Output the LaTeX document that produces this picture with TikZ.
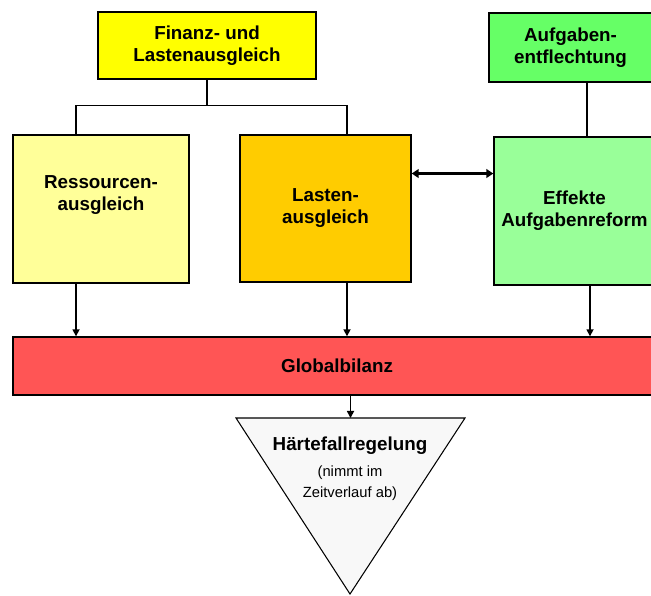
\documentclass[tikz,border=0pt]{standalone}
\usepackage{fontspec}
\setmainfont{Liberation Sans}
\usetikzlibrary{arrows.meta, calc}

\definecolor{finyellow}{HTML}{FFFF00}
\definecolor{resyellow}{HTML}{FFFF99}
\definecolor{lasorange}{HTML}{FFCC00}
\definecolor{aufgreen}{HTML}{66FF66}
\definecolor{effgreen}{HTML}{99FF99}
\definecolor{globred}{HTML}{FF5555}
\definecolor{hfwhite}{HTML}{F8F8F8}

\tikzset{
  box/.style={draw=black, line width=0.8pt, inner sep=0pt, align=center,
    font=\fontsize{10.7}{12.5}\selectfont\bfseries},
  link/.style={line width=0.9pt},
  flow/.style={line width=0.9pt, -{Triangle[length=4pt,width=4pt]}},
  both/.style={line width=2.2pt, {Triangle[length=4pt,width=5pt]}-{Triangle[length=4pt,width=5pt]}}
}

\begin{document}
\begin{tikzpicture}[x=0.02cm, y=-0.02cm]
\useasboundingbox (0,0) rectangle (651,595);
\clip (0,0) rectangle (651,595);

\node[box, fill=finyellow, minimum width=4.36cm, minimum height=1.34cm] (fla) at (207,45.5) {Finanz- und\\Lastenausgleich};
\node[box, fill=aufgreen, minimum width=3.26cm, minimum height=1.38cm] (auf) at (570.5,47.5) {Aufgaben-\\entflechtung};

\node[box, fill=resyellow, minimum width=3.52cm, minimum height=2.96cm] (res) at (101,209) {Ressourcen-\\ausgleich\\[6pt]};
\node[box, fill=lasorange, minimum width=3.42cm, minimum height=2.94cm] (las) at (325.5,208.5) {Lasten-\\ausgleich};
\node[box, fill=effgreen, minimum width=3.22cm, minimum height=2.96cm] (eff) at (574.5,211) {Effekte\\Aufgabenreform};

\node[box, fill=globred, minimum width=12.96cm, minimum height=1.16cm] (glob) at (337,366) {Globalbilanz};

% Haertefallregelung
\coordinate (tritop) at (350.5,418);
\draw[line width=0.6pt, fill=hfwhite] (236,418) -- (465,418) -- (350,594) -- cycle;
\node[align=center, inner sep=0pt, font=\fontsize{10.7}{12.5}\selectfont\bfseries] (hf) at (350,446) {Härtefallregelung};
\node[align=center, inner sep=0pt, font=\fontsize{8.4}{12}\selectfont, below=6pt] (hfsub) at (hf.south) {(nimmt im\\Zeitverlauf ab)};

% Verbindungen
\draw[link] (fla.south) -- ++(0,26) coordinate (split);
\draw[link] (split) -| ([xshift=-0.5cm]res.north);
\draw[link] (split) -| ([xshift=0.43cm]las.north);
\draw[link] ([xshift=0.33cm]auf.south) -- ([xshift=0.33cm]auf.south |- eff.north);

\draw[flow] ([xshift=-0.5cm]res.south) -- ([xshift=-0.5cm]res.south |- glob.north);
\draw[flow] ([xshift=0.43cm]las.south) -- ([xshift=0.43cm]las.south |- glob.north);
\draw[flow] ([xshift=0.31cm]eff.south) -- ([xshift=0.31cm]eff.south |- glob.north);
\draw[flow] (glob.south -| tritop) -- (tritop);

\draw[both] ([yshift=0.7cm]las.east) -- ([yshift=0.7cm]las.east -| eff.west);

\end{tikzpicture}
\end{document}
